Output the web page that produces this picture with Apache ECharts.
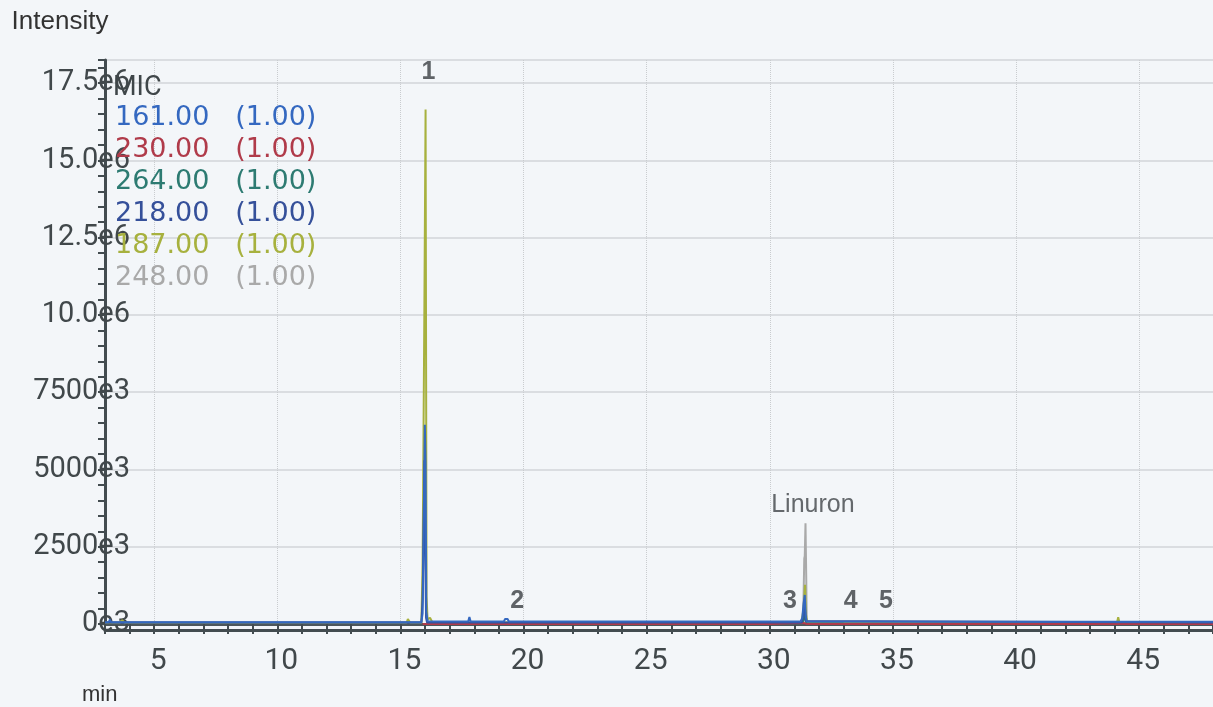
<!DOCTYPE html>
<html>
<head>
<meta charset="utf-8">
<script src="https://cdn.jsdelivr.net/npm/echarts@6/dist/echarts.min.js"></script>
<style>
html,body{margin:0;padding:0;background:#f3f6f9;}
#chart{width:1213px;height:707px;}
</style>
</head>
<body>
<div id="chart"></div>
<script>
// ---- data ----
const xTickLabels = ['5','10','15','20','25','30','35','40','45'];
const yTickValues = [0, 2500000, 5000000, 7500000, 10000000, 12500000, 15000000, 17500000];
const yTickLabels = ['0e3','2500e3','5000e3','7500e3','10.0e6','12.5e6','15.0e6','17.5e6'];
const xAxisName = 'min';
const yAxisName = 'Intensity';

const legendTitle = 'MIC';
const ionNames = ['161.00 (1.00)','230.00 (1.00)','264.00 (1.00)','218.00 (1.00)','187.00 (1.00)','248.00 (1.00)'];

// [retention time (min), intensity]
const ion161 = [
  [3.0,60000],[3.15,60000],[3.2,140000],[3.25,60000],[4.0,60000],[4.05,120000],[4.1,60000],
  [9.0,55000],[15.0,55000],[15.85,60000],[15.9,350000],[15.93,2100000],[15.96,4300000],[15.99,6450000],
  [16.02,5200000],[16.05,400000],[16.1,90000],
  [17.75,80000],[17.8,230000],[17.85,80000],
  [19.2,80000],[19.25,160000],[19.35,160000],[19.4,80000],
  [25.0,80000],[31.25,80000],[31.32,200000],[31.37,650000],[31.42,940000],[31.46,250000],[31.5,80000],
  [40.0,75000],[48.0,70000]
];
const ion230 = [
  [15.9,0],[20.0,0],[25.0,0],[30.0,0],[31.4,30000],[31.5,0],[35.0,0],[40.0,0],[48.0,0]
];
const ion264 = [
  [29.8,20000],[30.2,60000],[30.4,20000],[31.35,20000],[31.42,350000],[31.48,20000],[33.0,20000]
];
const ion218 = [
  [3.0,50000],[15.85,50000],[15.9,800000],[15.94,3000000],[15.97,5300000],[16.0,2800000],[16.04,200000],
  [16.08,50000],[31.3,50000],[31.38,400000],[31.42,600000],[31.46,100000],[31.5,50000],[48.0,50000]
];
const ion187 = [
  [3.0,40000],[3.6,40000],[3.7,120000],[3.8,40000],[15.25,40000],[15.3,160000],[15.4,40000],
  [15.85,40000],[15.9,2000000],[15.97,10100000],[16.02,16650000],[16.06,900000],[16.1,150000],
  [16.2,200000],[16.3,50000],[31.3,50000],[31.38,600000],[31.43,1270000],[31.47,300000],[31.52,50000],
  [44.1,50000],[44.15,220000],[44.2,50000],[48.0,50000]
];
const ion248 = [
  [28.0,30000],[31.3,30000],[31.36,400000],[31.4,2120000],[31.42,2200000],[31.45,3260000],
  [31.48,1500000],[31.5,80000],[35.0,30000]
];

const peakNames = ['1','2','3','4','5','Linuron'];
const peakTimes = [16.14, 19.74, 30.82, 33.29, 34.72, 31.75];

// ---- styling ----
const ionColors = {
  '161.00 (1.00)':'#3468c0',
  '230.00 (1.00)':'#b03b4a',
  '264.00 (1.00)':'#2d7b72',
  '218.00 (1.00)':'#35509a',
  '187.00 (1.00)':'#a7b13e',
  '248.00 (1.00)':'#a9a9a9'
};
const ionData = {
  '161.00 (1.00)':ion161,'230.00 (1.00)':ion230,'264.00 (1.00)':ion264,
  '218.00 (1.00)':ion218,'187.00 (1.00)':ion187,'248.00 (1.00)':ion248
};
const drawOrder = ['248.00 (1.00)','187.00 (1.00)','264.00 (1.00)','230.00 (1.00)','218.00 (1.00)','161.00 (1.00)'];
const axisColor = '#434c50';
const textColor = '#41484b';

const series = drawOrder.map((name, i) => ({
  name: name,
  type: 'line',
  xAxisIndex: 0, yAxisIndex: 0,
  data: ionData[name],
  showSymbol: false,
  symbol: 'none',
  z: 2 + i,
  lineStyle: {color: ionColors[name], width: 2},
  itemStyle: {color: ionColors[name]},
  animation: false
}));

series.push({
  name: 'peaks',
  type: 'scatter',
  xAxisIndex: 0, yAxisIndex: 0,
  symbolSize: 0,
  z: 20,
  silent: true,
  animation: false,
  data: peakNames.map((n, i) => ({
    name: n,
    value: [peakTimes[i], n === '1' ? 17860000 : (n === 'Linuron' ? 3850000 : 740000)],
    label: n === 'Linuron' ? {fontWeight: 'normal', color: '#404548'} : undefined
  })),
  label: {
    show: true,
    position: 'inside',
    formatter: p => p.name,
    color: '#3a3f42',
    fontFamily: 'Liberation Sans, Arial, sans-serif',
    fontSize: 25,
    fontWeight: 'bold'
  },
  labelLayout: {hideOverlap: false}
});

const chart = echarts.init(document.getElementById('chart'), null, {renderer: 'canvas'});
chart.setOption({
  backgroundColor: '#f3f6f9',
  animation: false,
  title: {
    text: legendTitle,
    left: 108, top: 70,
    textStyle: {fontFamily: 'Roboto', fontSize: 27, fontWeight: 'normal', color: '#3f4649'}
  },
  legend: {
    orient: 'vertical',
    left: 105, top: 99,
    icon: 'none',
    itemWidth: 0, itemHeight: 28, itemGap: 4,
    selectedMode: false,
    data: ionNames.map(n => ({name: n, textStyle: {color: ionColors[n]}})),
    textStyle: {fontFamily: 'DejaVu Sans', fontSize: 27, lineHeight: 28},
    formatter: n => n.replace(' ', '   ')
  },
  graphic: [
    {
      type: 'text', left: 82, top: 684, silent: true,
      style: {text: xAxisName, fontFamily: 'Liberation Sans', fontSize: 22, fill: '#333'}
    }
  ],
  grid: {left: 105, right: 0, top: 60, bottom: 83, containLabel: false, outerBoundsMode: 'none'},
  xAxis: [
    {
      type: 'value', min: 3, max: 48, minInterval: 5, maxInterval: 5, position: 'bottom', offset: 6,
      axisLine: {show: true, onZero: false, lineStyle: {color: axisColor, width: 3}},
      axisTick: {show: false},
      splitLine: {show: true, lineStyle: {color: '#c9cccf', width: 1, type: 'dotted'}},
      axisLabel: {
        margin: 16, fontFamily: 'Roboto', fontSize: 30, color: textColor, padding: [0,0,0,8],
        formatter: v => xTickLabels.indexOf(String(v)) >= 0 ? String(v) : ''
      }
    },
    {
      type: 'value', min: 3, max: 48, interval: 1, position: 'bottom', offset: 6,
      axisLine: {show: false}, axisLabel: {show: false}, splitLine: {show: false},
      axisTick: {show: true, length: 10, lineStyle: {color: axisColor, width: 2}}
    },
    {
      type: 'value', min: 3, max: 48, position: 'top',
      axisLine: {show: true, lineStyle: {color: '#4d575b', width: 3}},
      axisTick: {show: false}, axisLabel: {show: false}, splitLine: {show: false}
    }
  ],
  yAxis: [
    {
      type: 'value', min: 0, max: 18250000, interval: 2500000, position: 'left',
      name: yAxisName, nameLocation: 'end', nameGap: 25,
      nameTextStyle: {fontFamily: 'Liberation Sans', fontSize: 26, color: '#333', align: 'center', padding: [0, 90, 0, 0]},
      axisLine: {show: true, onZero: false, lineStyle: {color: axisColor, width: 3}},
      axisTick: {show: false},
      splitLine: {show: true, lineStyle: {color: '#d2d5d8', width: 1.5}},
      axisLabel: {
        margin: -25, align: 'right', fontFamily: 'Roboto', fontSize: 29, color: textColor,
        formatter: v => { const i = yTickValues.indexOf(v); return i >= 0 ? yTickLabels[i] : ''; }
      }
    },
    {
      type: 'value', min: 0, max: 18250000, interval: 500000, position: 'left',
      axisLine: {show: false}, axisLabel: {show: false}, splitLine: {show: false},
      axisTick: {show: true, length: 7, lineStyle: {color: axisColor, width: 2}}
    }
  ],
  series: series
});
</script>
</body>
</html>
